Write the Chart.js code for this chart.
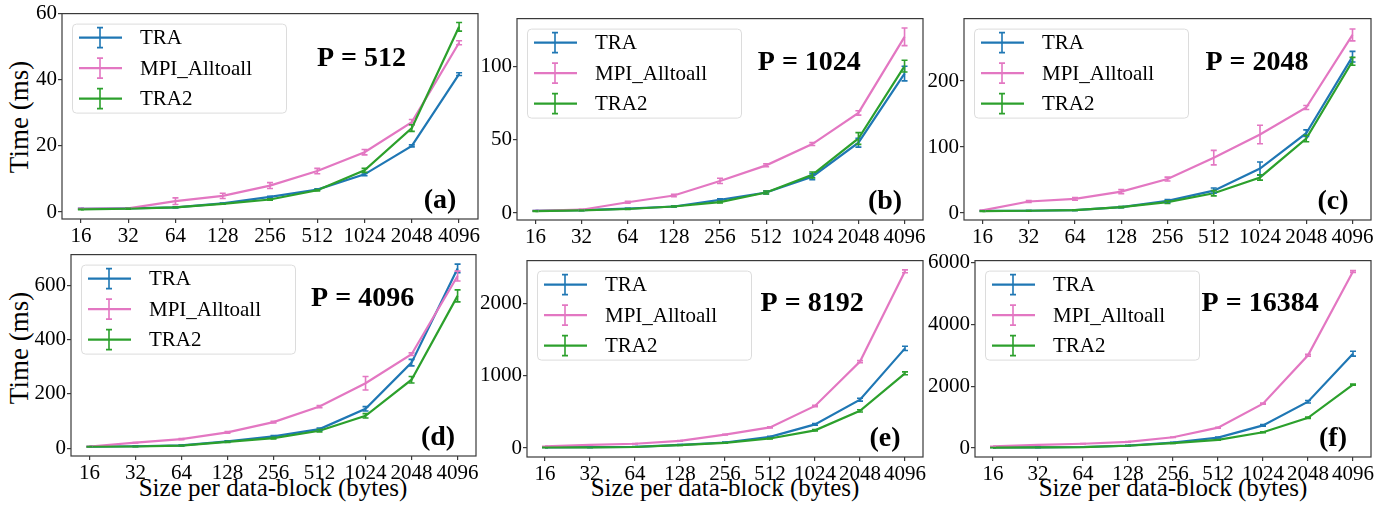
<!DOCTYPE html>
<html>
<head>
<meta charset="utf-8">
<script src="https://cdn.jsdelivr.net/npm/chart.js@4.4.1/dist/chart.umd.min.js"></script>
<style>
  body { margin: 0; background: #fff; width: 1391px; height: 508px; position: relative; overflow: hidden; font-family: 'Liberation Serif', 'Times New Roman', serif; }
  canvas { position: absolute; }
  .ylab { position: absolute; font-size: 27px; color: #000; white-space: nowrap; transform: translate(-50%, -50%) rotate(-90deg); }
  .xlab { position: absolute; font-size: 25px; color: #000; white-space: nowrap; transform: translate(-50%, -50%); }
</style>
</head>
<body>
<div class="ylab" style="left:19px; top:117px;">Time (ms)</div>
<div class="ylab" style="left:19px; top:348px;">Time (ms)</div>
<div class="xlab" style="left:273px; top:488px;">Size per data-block (bytes)</div>
<div class="xlab" style="left:725px; top:488px;">Size per data-block (bytes)</div>
<div class="xlab" style="left:1173px; top:488px;">Size per data-block (bytes)</div>

<script>
// 数据
const sizes = ['16', '32', '64', '128', '256', '512', '1024', '2048', '4096'];
const seriesNames = ['TRA', 'MPI_Alltoall', 'TRA2'];
const seriesColors = ['#1f77b4', '#e377c2', '#2ca02c'];

// P = 512
const tra512 = [1.0, 1.1, 1.4, 2.6, 4.6, 6.8, 11.4, 20.0, 41.7];
const mpi512 = [1.0, 1.1, 3.3, 4.9, 8.0, 12.4, 18.1, 27.2, 51.2];
const tra2_512 = [0.8, 1.0, 1.4, 2.5, 3.8, 6.6, 12.6, 25.4, 56.0];
const traErr512 = [0.1, 0.1, 0.1, 0.1, 0.2, 0.2, 0.4, 0.3, 0.4];
const mpiErr512 = [0.1, 0.1, 1.0, 0.8, 0.9, 0.8, 0.8, 0.8, 0.6];
const tra2Err512 = [0.1, 0.1, 0.1, 0.1, 0.2, 0.2, 0.6, 1.0, 1.3];

// P = 1024
const tra1024 = [1.5, 2.0, 3.0, 4.5, 9.0, 14.0, 24.8, 47.9, 95];
const mpi1024 = [1.5, 2.3, 7.4, 12.0, 21.9, 32.5, 47.0, 68.2, 120];
const tra2_1024 = [1.3, 1.8, 2.8, 4.5, 7.5, 14.0, 26.0, 50.8, 100];
const traErr1024 = [0.2, 0.2, 0.3, 0.3, 0.8, 1, 2, 3, 5];
const mpiErr1024 = [0.2, 0.2, 0.6, 0.8, 1.8, 1, 1, 1.5, 6];
const tra2Err1024 = [0.2, 0.2, 0.3, 0.3, 0.6, 1, 2, 4, 4];

// P = 2048
const tra2048 = [3.5, 3.5, 4.5, 9, 18.5, 34, 67.5, 121, 237];
const mpi2048 = [4, 17.5, 21.5, 32.5, 51.5, 84, 119, 160, 270];
const tra2_2048 = [3, 3.5, 4.5, 9, 16.5, 30, 54, 113, 230];
const traErr2048 = [0.5, 0.5, 0.5, 1, 2, 4, 10, 5, 8];
const mpiErr2048 = [0.5, 1.5, 2, 3, 3, 11, 14, 3, 9];
const tra2Err2048 = [0.5, 0.5, 0.5, 1, 2, 4, 4, 5, 6];

// P = 4096
const tra4096 = [5, 7, 10, 25, 43, 70, 145, 315, 662];
const mpi4096 = [6, 20, 33, 58, 96, 153, 239, 346, 634];
const tra2_4096 = [5, 6, 9, 23, 37, 64, 119, 252, 561];
const traErr4096 = [1, 1, 1, 2, 3, 4, 8, 12, 16];
const mpiErr4096 = [1, 1, 2, 3, 3, 4, 25, 5, 18];
const tra2Err4096 = [1, 1, 1, 2, 3, 4, 8, 12, 22];

// P = 8192
const tra8192 = [10, 12, 18, 45, 77, 155, 327, 668, 1377];
const mpi8192 = [23, 45, 60, 100, 186, 286, 582, 1195, 2441];
const tra2_8192 = [8, 10, 15, 40, 73, 132, 245, 514, 1032];
const traErr8192 = [2, 2, 2, 3, 5, 8, 12, 20, 30];
const mpiErr8192 = [2, 2, 3, 5, 5, 8, 10, 15, 20];
const tra2Err8192 = [2, 2, 2, 3, 5, 6, 10, 15, 20];

// P = 16384
const tra16384 = [20, 25, 35, 80, 180, 340, 734, 1500, 3053];
const mpi16384 = [53, 100, 140, 200, 350, 660, 1436, 3000, 5712];
const tra2_16384 = [15, 20, 30, 75, 160, 266, 510, 980, 2053];
const traErr16384 = [3, 3, 4, 6, 10, 15, 25, 40, 80];
const mpiErr16384 = [3, 4, 5, 8, 10, 15, 20, 30, 30];
const tra2Err16384 = [3, 3, 4, 5, 8, 10, 15, 20, 20];

// y 轴刻度
const ticks512 = [0, 20, 40, 60];
const ticks1024 = [0, 50, 100];
const ticks2048 = [0, 100, 200];
const ticks4096 = [0, 200, 400, 600];
const ticks8192 = [0, 1000, 2000];
const ticks16384 = [0, 2000, 4000, 6000];

// 每个子图: 绘图区位置和 y 范围
const panels = [
  { L: 62,  T: 12,  R: 478,  B: 219, ymin: -2.1, ymax: 60,   yt: ticks512,   title: 'P = 512',   tag: '(a)', series: [tra512, mpi512, tra2_512],       errs: [traErr512, mpiErr512, tra2Err512] },
  { L: 517, T: 17,  R: 923,  B: 220, ymin: -4.7, ymax: 132.4, yt: ticks1024, title: 'P = 1024',  tag: '(b)', series: [tra1024, mpi1024, tra2_1024],    errs: [traErr1024, mpiErr1024, tra2Err1024] },
  { L: 964, T: 17,  R: 1371, B: 220, ymin: -10.5, ymax: 294.7, yt: ticks2048, title: 'P = 2048', tag: '(c)', series: [tra2048, mpi2048, tra2_2048],    errs: [traErr2048, mpiErr2048, tra2Err2048] },
  { L: 71,  T: 253, R: 476,  B: 456, ymin: -29,  ymax: 713,  yt: ticks4096,  title: 'P = 4096',  tag: '(d)', series: [tra4096, mpi4096, tra2_4096],    errs: [traErr4096, mpiErr4096, tra2Err4096] },
  { L: 527, T: 259, R: 923,  B: 457, ymin: -123, ymax: 2589, yt: ticks8192,  title: 'P = 8192',  tag: '(e)', series: [tra8192, mpi8192, tra2_8192],    errs: [traErr8192, mpiErr8192, tra2Err8192] },
  { L: 975, T: 259, R: 1371, B: 457, ymin: -289, ymax: 6064, yt: ticks16384, title: 'P = 16384', tag: '(f)', series: [tra16384, mpi16384, tra2_16384], errs: [traErr16384, mpiErr16384, tra2Err16384] }
];

const PAD_L = 62, PAD_T = 12, PAD_R = 12, PAD_B = 30;
const FONT = "'Liberation Serif', 'Times New Roman', serif";

// 误差棒
const errorBars = {
  id: 'errorBars',
  afterDatasetsDraw(chart) {
    const ctx = chart.ctx;
    const xs = chart.scales.x, ys = chart.scales.y;
    chart.data.datasets.forEach(ds => {
      ctx.save();
      ctx.strokeStyle = ds.borderColor;
      ctx.lineWidth = 1.6;
      ds.values.forEach((v, j) => {
        const e = ds.errors[j];
        const x = xs.getPixelForValue(j);
        const y1 = ys.getPixelForValue(v - e);
        const y2 = ys.getPixelForValue(v + e);
        ctx.beginPath();
        ctx.moveTo(x, y1); ctx.lineTo(x, y2);
        ctx.moveTo(x - 3, y1); ctx.lineTo(x + 3, y1);
        ctx.moveTo(x - 3, y2); ctx.lineTo(x + 3, y2);
        ctx.stroke();
      });
      ctx.restore();
    });
  }
};

// 边框、图例、标题
const decorations = {
  id: 'decorations',
  afterDraw(chart, args, opts) {
    const ctx = chart.ctx;
    const a = chart.chartArea;
    ctx.save();
    ctx.strokeStyle = '#3a3a3a';
    ctx.lineWidth = 1.2;
    ctx.strokeRect(a.left, a.top, a.right - a.left, a.bottom - a.top);

    // legend
    const bx = a.left + 10, by = a.top + 10, bw = 214, bh = 89;
    ctx.fillStyle = 'rgba(255,255,255,0.8)';
    ctx.strokeStyle = '#dcdcdc';
    ctx.lineWidth = 1;
    ctx.beginPath();
    ctx.roundRect(bx + 0.5, by + 0.5, bw, bh, 4);
    ctx.fill();
    ctx.stroke();
    seriesNames.forEach((n, i) => {
      const y = by + 14 + i * 30.5;
      const cx = bx + 28;
      ctx.strokeStyle = seriesColors[i];
      ctx.lineWidth = 2.2;
      ctx.beginPath();
      ctx.moveTo(bx + 7, y); ctx.lineTo(bx + 50, y);
      ctx.stroke();
      ctx.lineWidth = 1.6;
      ctx.beginPath();
      ctx.moveTo(cx, y - 10); ctx.lineTo(cx, y + 10);
      ctx.moveTo(cx - 3, y - 10); ctx.lineTo(cx + 3, y - 10);
      ctx.moveTo(cx - 3, y + 10); ctx.lineTo(cx + 3, y + 10);
      ctx.stroke();
      ctx.fillStyle = '#000';
      ctx.font = '21px ' + FONT;
      ctx.textBaseline = 'middle';
      ctx.textAlign = 'left';
      ctx.fillText(n, bx + 68, y + 1);
    });

    ctx.fillStyle = '#000';
    ctx.font = 'bold 28px ' + FONT;
    ctx.textAlign = 'center';
    ctx.textBaseline = 'middle';
    ctx.fillText(opts.title, a.left + 0.72 * (a.right - a.left), a.top + 0.22 * (a.bottom - a.top));
    ctx.fillText(opts.tag, a.right - 38, a.bottom - 18);
    ctx.restore();
  }
};

function makePanel(p) {
  const canvas = document.createElement('canvas');
  const w = p.R - p.L + PAD_L + PAD_R;
  const h = p.B - p.T + PAD_T + PAD_B;
  canvas.width = w;
  canvas.height = h;
  canvas.style.left = (p.L - PAD_L) + 'px';
  canvas.style.top = (p.T - PAD_T) + 'px';
  canvas.style.width = w + 'px';
  canvas.style.height = h + 'px';
  document.body.appendChild(canvas);

  const datasets = p.series.map((vals, i) => ({
    label: seriesNames[i],
    data: vals.map((v, j) => ({ x: j, y: v })),
    values: vals,
    errors: p.errs[i],
    borderColor: seriesColors[i],
    backgroundColor: seriesColors[i],
    borderWidth: 2.2,
    pointRadius: 0,
    tension: 0,
    order: 3 - i
  }));

  new Chart(canvas.getContext('2d'), {
    type: 'line',
    data: { datasets },
    options: {
      responsive: false,
      animation: false,
      devicePixelRatio: 1,
      layout: { padding: { left: 0, top: PAD_T, right: PAD_R, bottom: 0 } },
      scales: {
        x: {
          type: 'linear',
          min: -0.4,
          max: 8.4,
          afterFit: s => { s.height = PAD_B; },
          afterBuildTicks: s => { s.ticks = sizes.map((_, i) => ({ value: i })); },
          border: { display: false },
          grid: { drawOnChartArea: false, drawTicks: true, tickLength: 4, color: '#3a3a3a', lineWidth: 1.2 },
          ticks: {
            autoSkip: false,
            maxRotation: 0,
            padding: 1,
            color: '#000',
            font: { family: FONT, size: 21 },
            callback: v => sizes[v]
          }
        },
        y: {
          min: p.ymin,
          max: p.ymax,
          afterFit: s => { s.width = PAD_L; },
          afterBuildTicks: s => { s.ticks = p.yt.map(v => ({ value: v })); },
          border: { display: false },
          grid: { drawOnChartArea: false, drawTicks: true, tickLength: 4, color: '#3a3a3a', lineWidth: 1.2 },
          ticks: {
            padding: 1,
            color: '#000',
            font: { family: FONT, size: 21 },
            callback: v => String(v)
          }
        }
      },
      plugins: {
        legend: { display: false },
        tooltip: { enabled: false },
        decorations: { title: p.title, tag: p.tag }
      }
    },
    plugins: [errorBars, decorations]
  });
}

panels.forEach(makePanel);
</script>
</body>
</html>
